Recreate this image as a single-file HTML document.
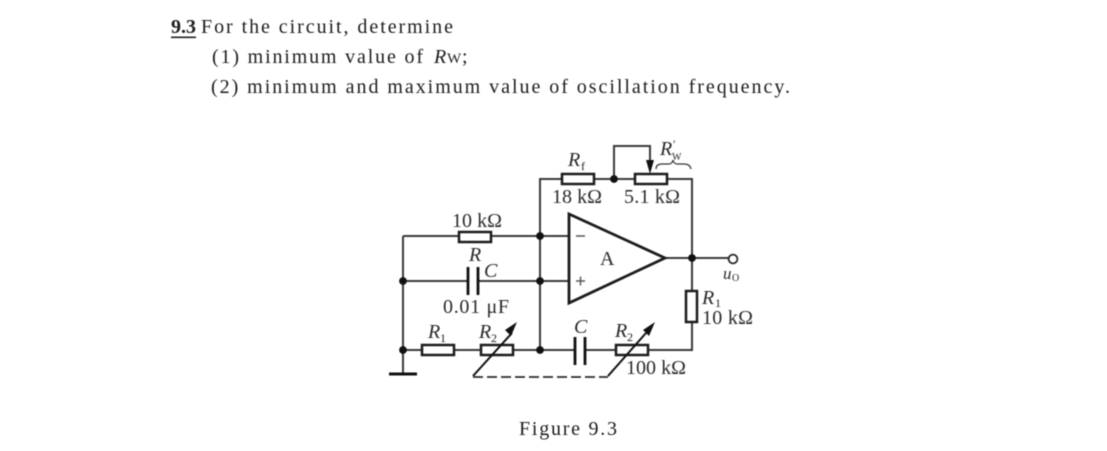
<!DOCTYPE html>
<html>
<head>
<meta charset="utf-8">
<style>
html,body{margin:0;padding:0;background:#fff;width:1107px;height:451px;overflow:hidden}
svg{display:block;filter:blur(0.4px)}
text{font-family:"Liberation Serif",serif;fill:#222}
.t{font-size:20px;fill:#1c1c1c}
.d{font-size:20px;fill:#2a2a2a}
.i{font-style:italic}
.s{font-size:12px}
</style>
</head>
<body>
<svg width="1107" height="451" viewBox="0 0 1107 451" xmlns="http://www.w3.org/2000/svg">
<rect width="1107" height="451" fill="#fff"/>
<text class="t" x="171" y="33" font-weight="bold" textLength="25" lengthAdjust="spacingAndGlyphs">9.3</text>
<rect x="171" y="36.5" width="25" height="1.6" fill="#222"/>
<text class="t" x="201" y="33" textLength="252">For the circuit, determine</text>
<text class="t" x="212" y="63" textLength="211">(1) minimum value of</text>
<text class="t i" x="434" y="63" font-size="19">R</text>
<text x="447" y="63" font-size="15" fill="#1c1c1c">W</text>
<text class="t" x="462" y="63">;</text>
<text class="t" x="211" y="93" textLength="579">(2) minimum and maximum value of oscillation frequency.</text>
<text class="t" x="519" y="435" textLength="98">Figure 9.3</text>

<g fill="none" stroke="#3a3a3a" stroke-width="2">
<path d="M403 236H459M491 236H569M403 236V374M403 281H468M478 281H569M403 350H422M453 350H481M512 350H575M585 350H616M648 350H692V322M692 291V179H667M635 179H593M562 179H540V281M540 281V350"/>
<path d="M614 179V146H650V162"/>
<path d="M665 258H729"/>
</g>
<path d="M389 374H417" stroke="#111" stroke-width="3" fill="none"/>
<g fill="#fff" stroke="#1c1c1c" stroke-width="2.500">
<rect x="459" y="232" width="32" height="10"/>
<rect x="562" y="174" width="32" height="10"/>
<rect x="635" y="174" width="32" height="10"/>
<rect x="422" y="345" width="32" height="10"/>
<rect x="481" y="345" width="32" height="10"/>
<rect x="616" y="345" width="32" height="10"/>
<rect x="686" y="291" width="11" height="31"/>
<path d="M569 214L665 258L569 303Z" stroke-width="2.800" stroke-linejoin="miter"/>
</g>
<path d="M576 236H585M576 281H585M580.500 276.500V285.500" stroke="#555" stroke-width="1.400" fill="none"/>
<path d="M468 267V295M478 267V295M575 337V365M585 337V365" stroke="#111" stroke-width="2.800" fill="none"/>
<path d="M473 376L512 333M608 376L646 333" stroke="#111" stroke-width="2" fill="none"/>
<path d="M517 322L505 330L511 336ZM655 322L643 330L649 336Z" fill="#111"/>
<path d="M650 174L646 160H654Z" fill="#111"/>
<path d="M473 377H608" stroke="#2a2a2a" stroke-width="1.800" stroke-dasharray="10 4" fill="none"/>
<g fill="#111">
<circle cx="540" cy="236" r="3.900"/>
<circle cx="540" cy="281" r="3.900"/>
<circle cx="540" cy="350" r="3.900"/>
<circle cx="403" cy="281" r="3.900"/>
<circle cx="403" cy="350" r="3.900"/>
<circle cx="614" cy="179" r="3.900"/>
<circle cx="692" cy="258" r="3.900"/>
</g>
<circle cx="733" cy="259" r="4.400" fill="#fff" stroke="#2a2a2a" stroke-width="1.800"/>
<path d="M656 169Q656 164 662 164H669Q672 164 673 160Q674 164 677 164H684Q690 164 691 169" fill="none" stroke="#333" stroke-width="1.200"/>

<text class="d" x="452" y="227" textLength="50">10 kΩ</text>
<text class="d i" x="469" y="261">R</text>
<text class="d i" x="484" y="277">C</text>
<text class="d" x="443" y="313" textLength="66">0.01 μF</text>
<text class="d i" x="428" y="338">R</text><text class="s" x="440" y="342">1</text>
<text class="d i" x="479" y="338">R</text><text class="s" x="491" y="342">2</text>
<text class="d i" x="568" y="166">R</text><text class="s" x="581" y="170">f</text>
<text class="d" x="552" y="203" textLength="50">18 kΩ</text>
<text class="d" x="624" y="203" textLength="56">5.1 kΩ</text>
<text class="d i" x="660" y="155">R</text><text class="s" x="673" y="148">′</text><text x="672" y="160" font-size="10">W</text>
<text class="d" x="600" y="265" font-size="17">A</text>
<text class="d i" x="723" y="279" style="font-size:17px">u</text><text x="732" y="281" font-size="10">O</text>
<text class="d i" x="702" y="304">R</text><text class="s" x="715" y="307">1</text>
<text class="d" x="702" y="324" textLength="51">10 kΩ</text>
<text class="d i" x="574" y="333">C</text>
<text class="d i" x="615" y="337">R</text><text class="s" x="627" y="341">2</text>
<text class="d" x="626" y="374" textLength="60">100 kΩ</text>
</svg>
</body>
</html>
